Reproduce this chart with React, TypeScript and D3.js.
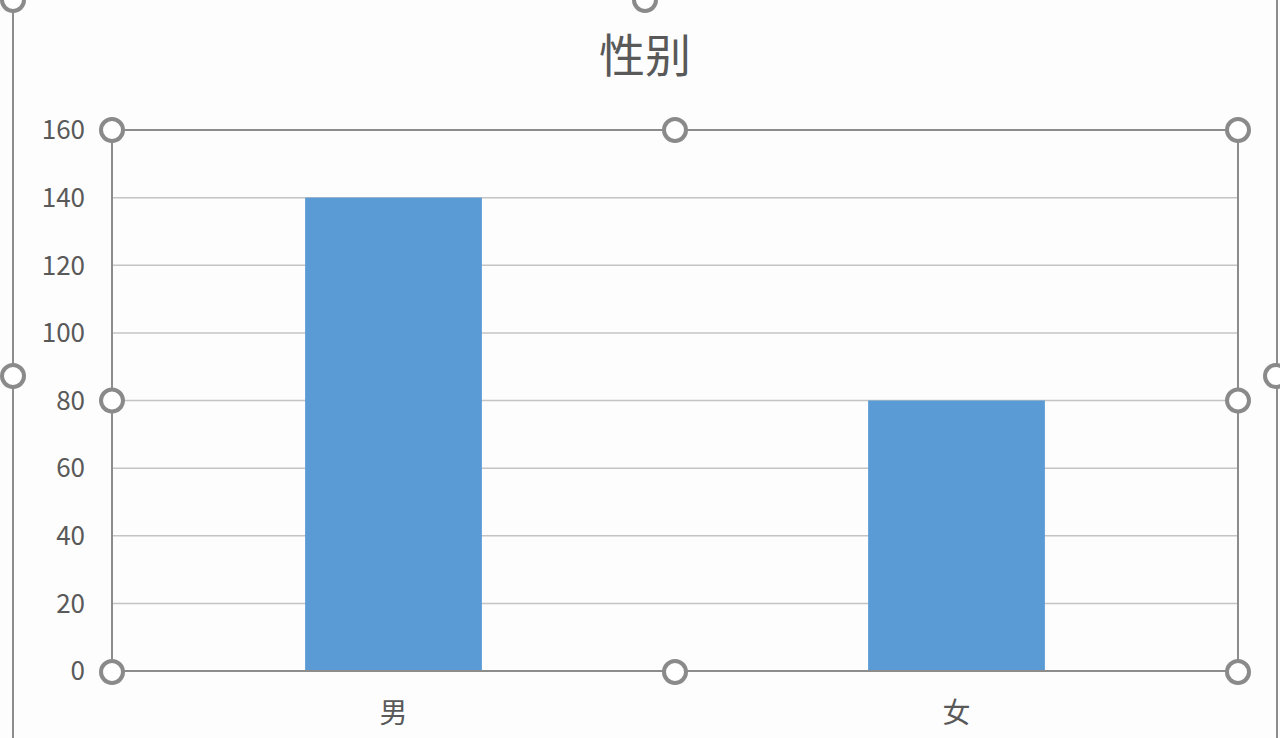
import React, { useRef, useEffect } from 'react';
import * as d3 from 'd3';

const categories = ['男', '女'];
const counts = [140, 80];
const yTicks = [0, 20, 40, 60, 80, 100, 120, 140, 160];
const chartTitle = '性别';

const App: React.FC = () => {
  const svgRef = useRef<SVGSVGElement | null>(null);

  useEffect(() => {
    if (!svgRef.current) return;
    document.body.style.margin = '0';
    d3.select(svgRef.current).selectAll('*').remove();

    const width = 1280;
    const height = 738;
    const plot = { left: 112, top: 130, right: 1238, bottom: 671 };
    const font = '"Noto Sans CJK SC", "Open Sans", sans-serif';

    const svg = d3
      .select(svgRef.current)
      .attr('width', width)
      .attr('height', height)
      .style('display', 'block');

    svg.append('rect').attr('width', width).attr('height', height).attr('fill', '#fdfdfd');

    // Excel gap width ~219%
    const x = d3
      .scaleBand<string>()
      .domain(categories)
      .range([plot.left, plot.right])
      .paddingInner(0.686)
      .paddingOuter(0.343);
    const y = d3.scaleLinear().domain([0, 160]).range([plot.bottom, plot.top]);

    // outer chart-area selection border
    svg
      .append('line')
      .attr('x1', 13).attr('x2', 13).attr('y1', 0).attr('y2', height)
      .attr('stroke', '#8c8c8c').attr('stroke-width', 2);
    svg
      .append('line')
      .attr('x1', 1277).attr('x2', 1277).attr('y1', 0).attr('y2', height)
      .attr('stroke', '#8c8c8c').attr('stroke-width', 2);

    // gridlines
    svg
      .append('g')
      .selectAll('line')
      .data(yTicks.filter((t) => t > 0 && t < 160))
      .join('line')
      .attr('x1', plot.left)
      .attr('x2', plot.right)
      .attr('y1', (d) => y(d))
      .attr('y2', (d) => y(d))
      .attr('stroke', '#c4c4c4')
      .attr('stroke-width', 1.5);

    // bars
    svg
      .append('g')
      .selectAll('rect')
      .data(counts)
      .join('rect')
      .attr('x', (_, i) => x(categories[i]) as number)
      .attr('width', x.bandwidth())
      .attr('y', (d) => y(d))
      .attr('height', (d) => y(0) - y(d))
      .attr('fill', '#5b9bd5');

    // plot area selection border
    svg
      .append('rect')
      .attr('x', plot.left)
      .attr('y', plot.top)
      .attr('width', plot.right - plot.left)
      .attr('height', plot.bottom - plot.top)
      .attr('fill', 'none')
      .attr('stroke', '#8c8c8c')
      .attr('stroke-width', 2);

    // y axis labels
    svg
      .append('g')
      .selectAll('text')
      .data(yTicks)
      .join('text')
      .attr('x', 85)
      .attr('y', (d) => y(d))
      .attr('dy', '0.36em')
      .attr('text-anchor', 'end')
      .attr('font-family', font)
      .attr('font-size', 26)
      .attr('fill', '#595959')
      .text((d) => d);

    // category labels
    svg
      .append('g')
      .selectAll('text')
      .data(categories)
      .join('text')
      .attr('x', (d) => (x(d) as number) + x.bandwidth() / 2)
      .attr('y', 713)
      .attr('dy', '0.36em')
      .attr('text-anchor', 'middle')
      .attr('font-family', font)
      .attr('font-size', 28)
      .attr('fill', '#595959')
      .text((d) => d);

    // title
    svg
      .append('text')
      .attr('x', 645)
      .attr('y', 55)
      .attr('dy', '0.36em')
      .attr('text-anchor', 'middle')
      .attr('font-family', font)
      .attr('font-size', 46)
      .attr('fill', '#595959')
      .text(chartTitle);

    // selection handles
    const midX = (plot.left + plot.right) / 2;
    const midY = (plot.top + plot.bottom) / 2;
    const handles: [number, number][] = [
      [plot.left, plot.top], [midX, plot.top], [plot.right, plot.top],
      [plot.left, midY], [plot.right, midY],
      [plot.left, plot.bottom + 1], [midX, plot.bottom + 1], [plot.right, plot.bottom + 1],
      [13, 0], [645, 0], [13, 376], [1276, 376],
    ];
    svg
      .append('g')
      .selectAll('circle')
      .data(handles)
      .join('circle')
      .attr('cx', (d) => d[0])
      .attr('cy', (d) => d[1])
      .attr('r', 11)
      .attr('fill', '#ffffff')
      .attr('stroke', '#8a8a8a')
      .attr('stroke-width', 4);
  }, []);

  return <svg ref={svgRef}></svg>;
};

export default App;
